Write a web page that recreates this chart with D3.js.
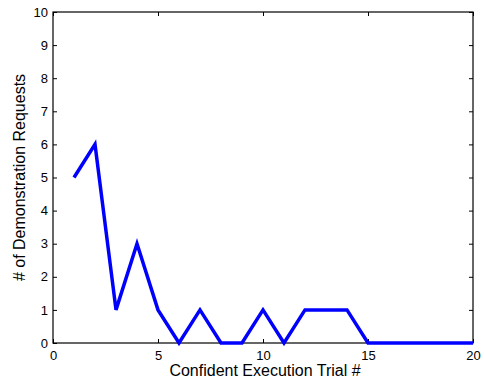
<!DOCTYPE html>
<html>
<head>
<meta charset="utf-8">
<script src="https://cdn.jsdelivr.net/npm/d3@7"></script>
<style>
body { margin: 0; background: #fff; }
svg { display: block; }
text { font-family: "Liberation Sans", Arial, sans-serif; fill: #000; }
</style>
</head>
<body>
<div id="chart"></div>
<script>
var trials = [1, 2, 3, 4, 5, 6, 7, 8, 9, 10, 11, 12, 13, 14, 15, 16, 17, 18, 19, 20]
var requests = [5, 6, 1, 3, 1, 0, 1, 0, 0, 1, 0, 1, 1, 1, 0, 0, 0, 0, 0, 0]
var xTicks = [0, 5, 10, 15, 20]
var yTicks = [0, 1, 2, 3, 4, 5, 6, 7, 8, 9, 10]

var width = 484
var height = 381
var marginLeft = 53
var marginRight = 11
var marginTop = 12
var marginBottom = 38

var svg = d3.select('#chart').append('svg')
	.attr('width', width)
	.attr('height', height)

var xScale = d3.scaleLinear()
	.domain([0, 20])
	.range([marginLeft, width - marginRight])

var yScale = d3.scaleLinear()
	.domain([0, 10])
	.range([height - marginBottom, marginTop])

var x0 = marginLeft, x1 = width - marginRight
var y0 = height - marginBottom, y1 = marginTop

// bottom and left axes with labels, ticks pointing inward
svg.append('g')
	.attr('transform', 'translate(0,' + y0 + ')')
	.call(d3.axisBottom(xScale).tickValues(xTicks).tickSizeInner(-4).tickSizeOuter(0).tickPadding(8))
	.call(function(g) {
		g.select('.domain').remove()
		g.selectAll('text').attr('font-size', 13)
	})

svg.append('g')
	.attr('transform', 'translate(' + x0 + ',0)')
	.call(d3.axisLeft(yScale).tickValues(yTicks).tickSizeInner(-4).tickSizeOuter(0).tickPadding(5))
	.call(function(g) {
		g.select('.domain').remove()
		g.selectAll('text').attr('font-size', 13)
	})

// mirrored ticks on top and right
svg.append('g')
	.attr('transform', 'translate(0,' + y1 + ')')
	.call(d3.axisTop(xScale).tickValues(xTicks).tickSizeInner(-4).tickSizeOuter(0).tickFormat(''))
	.call(function(g) { g.select('.domain').remove() })

svg.append('g')
	.attr('transform', 'translate(' + x1 + ',0)')
	.call(d3.axisRight(yScale).tickValues(yTicks).tickSizeInner(-4).tickSizeOuter(0).tickFormat(''))
	.call(function(g) { g.select('.domain').remove() })

svg.append('rect')
	.attr('x', x0)
	.attr('y', y1)
	.attr('width', x1 - x0)
	.attr('height', y0 - y1)
	.attr('fill', 'none')
	.attr('stroke', '#000')
	.attr('stroke-width', 1.2)

var line = d3.line()
	.x(function(d, i) { return xScale(trials[i]) })
	.y(function(d) { return yScale(d) })

svg.append('path')
	.datum(requests)
	.attr('d', line)
	.attr('fill', 'none')
	.attr('stroke', '#0000ff')
	.attr('stroke-width', 3.5)
	.attr('stroke-linejoin', 'miter')

svg.append('text')
	.attr('x', (x0 + x1) / 2 + 2)
	.attr('y', height - 5)
	.attr('text-anchor', 'middle')
	.attr('font-size', 16)
	.text('Confident Execution Trial #')

svg.append('text')
	.attr('transform', 'translate(25,' + ((y0 + y1) / 2) + ') rotate(-90)')
	.attr('text-anchor', 'middle')
	.attr('font-size', 16)
	.text('# of Demonstration Requests')
</script>
</body>
</html>
